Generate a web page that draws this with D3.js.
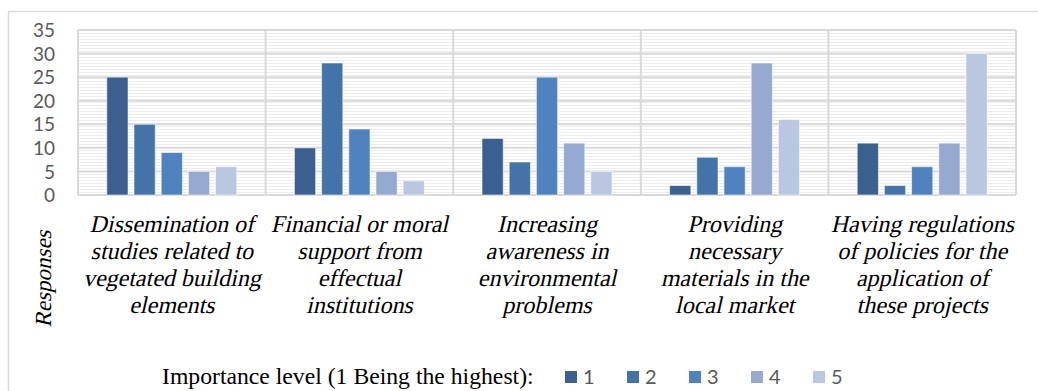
<!DOCTYPE html>
<html>
<head>
<meta charset="utf-8">
<script src="https://cdn.jsdelivr.net/npm/d3@7"></script>
<style>
  html, body { margin: 0; padding: 0; background: #ffffff; }
  svg { display: block; }
</style>
</head>
<body>
<svg id="chart" width="1038" height="391"></svg>
<script>
// Survey factors (x-axis categories), each split into multiple text lines
const categories = [
  ["Dissemination of", "studies related to", "vegetated building", "elements"],
  ["Financial or moral", "support from", "effectual", "institutions"],
  ["Increasing", "awareness in", "environmental", "problems"],
  ["Providing", "necessary", "materials in the", "local market"],
  ["Having regulations", "of policies for the", "application of", "these projects"]
];

// Importance levels (series)
const levels = ["1", "2", "3", "4", "5"];

// Number of responses per category, one array per importance level
const level1 = [25, 10, 12, 2, 11];
const level2 = [15, 28, 7, 8, 2];
const level3 = [9, 14, 25, 6, 6];
const level4 = [5, 5, 11, 28, 11];
const level5 = [6, 3, 5, 16, 30];

const yTicks = [0, 5, 10, 15, 20, 25, 30, 35];

const seriesValues = [level1, level2, level3, level4, level5];
const colors = ["#3b5f8e", "#4473a9", "#4f82be", "#95a9d1", "#b9c7e1"];

const serif = "'Liberation Serif', 'Times New Roman', serif";
const slant = "skewX(-13)";   // oblique serif lettering

const svg = d3.select("#chart");

// outer chart frame
svg.append("rect")
  .attr("x", 8.5).attr("y", 11.5)
  .attr("width", 1200).attr("height", 600)
  .attr("fill", "none").attr("stroke", "#d9d9d9").attr("stroke-width", 1.5);

const plot = { left: 78, right: 1016, top: 30, bottom: 195 };

const x0 = d3.scaleBand()
  .domain(d3.range(categories.length))
  .range([plot.left, plot.right])
  .padding(0);

const x1 = d3.scaleBand()
  .domain(levels)
  .range([0, x0.bandwidth()])
  .paddingInner(0.22)
  .paddingOuter(1.06);

const y = d3.scaleLinear().domain([0, 35]).range([plot.bottom, plot.top]);

// striped plot-area fill
const defs = svg.append("defs");
const pat = defs.append("pattern")
  .attr("id", "stripes")
  .attr("patternUnits", "userSpaceOnUse")
  .attr("width", 8).attr("height", 3);
pat.append("rect").attr("width", 8).attr("height", 3).attr("fill", "#ffffff");
pat.append("rect").attr("width", 8).attr("height", 1).attr("fill", "#ededed");

svg.append("rect")
  .attr("x", plot.left).attr("y", plot.top)
  .attr("width", plot.right - plot.left).attr("height", plot.bottom - plot.top)
  .attr("fill", "url(#stripes)");

// horizontal gridlines
svg.append("g")
  .selectAll("line")
  .data(yTicks)
  .join("line")
  .attr("x1", plot.left).attr("x2", plot.right)
  .attr("y1", d => y(d)).attr("y2", d => y(d))
  .attr("stroke", "#d9d9d9").attr("stroke-width", 2);

// vertical category separators and plot edges
const seps = d3.range(categories.length + 1).map(i =>
  i < categories.length ? x0(i) : x0(categories.length - 1) + x0.bandwidth());
svg.append("g")
  .selectAll("line")
  .data(seps)
  .join("line")
  .attr("x1", d => d).attr("x2", d => d)
  .attr("y1", plot.top).attr("y2", plot.bottom)
  .attr("stroke", "#d9d9d9").attr("stroke-width", 2);

// y axis labels
const yAxis = d3.axisLeft(y).tickValues(yTicks).tickSize(0).tickPadding(0);
const yg = svg.append("g")
  .attr("transform", "translate(55,0)")
  .call(yAxis);
yg.select(".domain").remove();
yg.selectAll("text")
  .attr("fill", "#595959")
  .style("font-family", "Lato, 'Open Sans', sans-serif")
  .style("font-size", "19px")
  .attr("dy", "0.35em");

// bars
const groups = svg.append("g")
  .selectAll("g")
  .data(categories.map((c, i) => i))
  .join("g")
  .attr("transform", i => `translate(${x0(i)},0)`);

groups.selectAll("rect")
  .data(i => levels.map((lv, k) => ({ lv, k, v: seriesValues[k][i] })))
  .join("rect")
  .attr("x", d => x1(d.lv))
  .attr("width", x1.bandwidth())
  .attr("y", d => y(d.v))
  .attr("height", d => y(0) - y(d.v))
  .attr("fill", d => colors[d.k])
  .attr("stroke", "#ffffff")
  .attr("stroke-opacity", 0.55)
  .attr("stroke-width", 1);

// category labels, one slanted text per line
const labelLines = [232, 259, 286, 313];
const labelData = [];
categories.forEach((lines, i) => {
  lines.forEach((t, j) => labelData.push({ t, cx: x0(i) + x0.bandwidth() / 2, by: labelLines[j] }));
});
svg.append("g")
  .selectAll("text")
  .data(labelData)
  .join("text")
  .attr("transform", d => `translate(${d.cx},${d.by}) ${slant}`)
  .attr("text-anchor", "middle")
  .attr("fill", "#000000")
  .style("font-family", serif)
  .style("font-size", "24px")
  .text(d => d.t);

// y axis title
svg.append("text")
  .attr("transform", `translate(51,279) rotate(-90) ${slant}`)
  .attr("text-anchor", "middle")
  .style("font-family", serif)
  .style("font-size", "23px")
  .attr("fill", "#000000")
  .text("Responses");

// legend
svg.append("text")
  .attr("x", 162).attr("y", 384)
  .style("font-family", serif)
  .style("font-size", "23.7px")
  .attr("fill", "#000000")
  .text("Importance level (1 Being the highest):");

const legend = svg.append("g")
  .selectAll("g")
  .data(levels)
  .join("g")
  .attr("transform", (d, i) => `translate(${565 + i * 62},371)`);
legend.append("rect")
  .attr("width", 12).attr("height", 12)
  .attr("fill", (d, i) => colors[i]);
legend.append("text")
  .attr("x", 18).attr("y", 13)
  .attr("fill", "#595959")
  .style("font-family", "Lato, 'Open Sans', sans-serif")
  .style("font-size", "20px")
  .text(d => d);
</script>
</body>
</html>
